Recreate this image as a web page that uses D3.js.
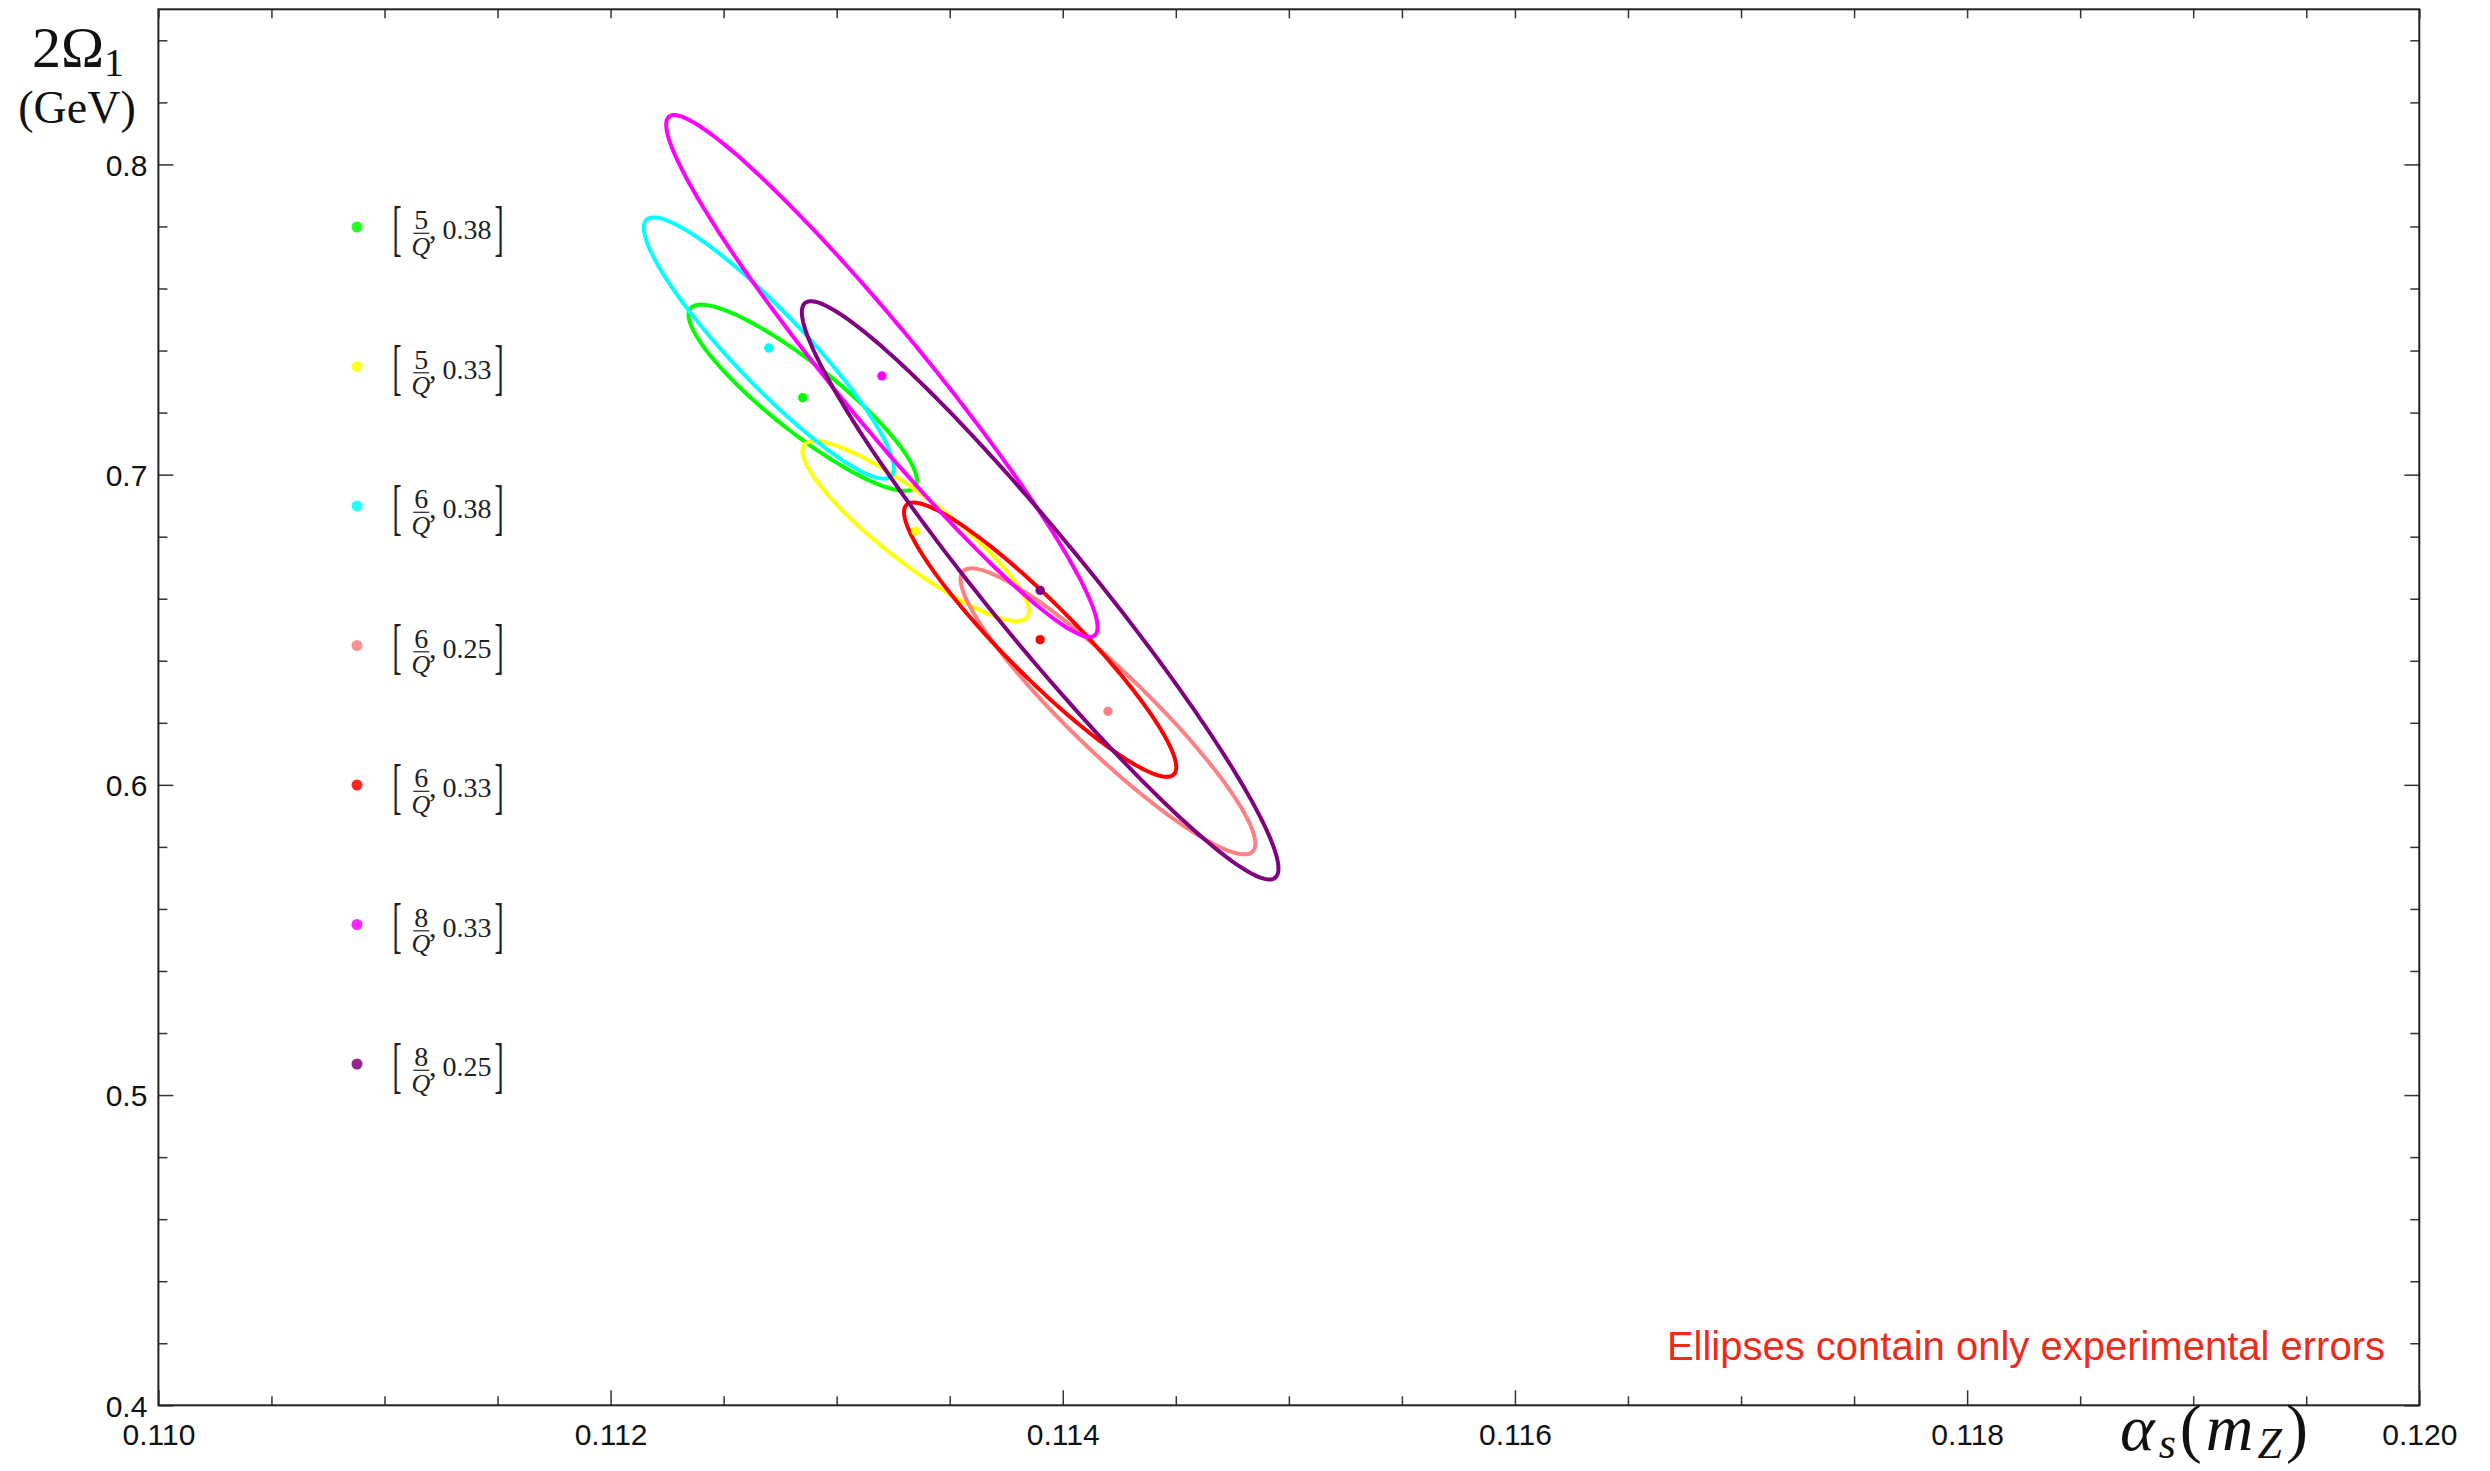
<!DOCTYPE html>
<html>
<head>
<meta charset="utf-8">
<script src="https://cdn.jsdelivr.net/npm/d3@7"></script>
<style>
  html, body { margin: 0; padding: 0; background: #fff; }
  svg { display: block; }
</style>
</head>
<body>
<svg id="chart" width="2490" height="1471"></svg>
<script>
// Fit results: central values of alpha_s(mZ) and 2*Omega_1 with their
// experimental 1-sigma errors and correlation, for each fit range.
const rangeNumerator = [5, 5, 6, 6, 6, 8, 8];
const rangeUpper = ["0.38", "0.33", "0.38", "0.25", "0.33", "0.33", "0.25"];
const seriesColors = ["#00ff00", "#ffff00", "#00ffff", "#ff8080", "#ff0000", "#ff00ff", "#800080"];
const alphaCentral = [0.11285, 0.11335, 0.11270, 0.11420, 0.11390, 0.11320, 0.11390];
const omegaCentral = [0.7248, 0.6818, 0.7408, 0.6237, 0.6468, 0.7318, 0.6627];
const alphaError = [0.000505, 0.000501, 0.000553, 0.000652, 0.000602, 0.000954, 0.001054];
const omegaError = [0.0300, 0.0290, 0.0421, 0.0461, 0.0442, 0.0841, 0.0932];
const correlation = [-0.89, -0.89, -0.92, -0.925, -0.93, -0.963, -0.962];

const xMajorTicks = [0.110, 0.112, 0.114, 0.116, 0.118, 0.120];
const xTickLabels = ["0.110", "0.112", "0.114", "0.116", "0.118", "0.120"];
const yMajorTicks = [0.4, 0.5, 0.6, 0.7, 0.8];
const yTickLabels = ["0.4", "0.5", "0.6", "0.7", "0.8"];

const svg = d3.select("#chart");
const frameLeft = 158.4, frameRight = 2419.3, frameTop = 9.3, frameBottom = 1405.3;

const x = d3.scaleLinear().domain([0.110, 0.120]).range([frameLeft, frameRight]);
const y = d3.scaleLinear().domain([0.4, 0.85]).range([frameBottom, frameTop]);

const tickFont = "'Liberation Sans', Arial, Helvetica, sans-serif";
const mathFont = "'Liberation Serif', 'Times New Roman', serif";

// Minor tick positions
const xMinor = d3.range(0, 21).map(i => 0.110 + i * 0.0005)
  .filter(v => !xMajorTicks.some(m => Math.abs(m - v) < 1e-9));
const yMinor = d3.range(0, 23).map(i => 0.4 + i * 0.02)
  .filter(v => v <= 0.8501 && !yMajorTicks.some(m => Math.abs(m - v) < 1e-9));

function styleAxis(g) {
  g.select(".domain").remove();
  g.selectAll(".tick line").attr("stroke", "#333").attr("stroke-width", 1.5);
  g.selectAll(".tick text").attr("font-family", tickFont).attr("font-size", 30).attr("fill", "#111");
}

// Bottom axis
svg.append("g").attr("transform", `translate(0,${frameBottom})`)
  .call(d3.axisBottom(x).tickValues(xMajorTicks).tickSize(-15).tickPadding(18)
    .tickFormat((d, i) => xTickLabels[i]))
  .call(styleAxis);
svg.append("g").attr("transform", `translate(0,${frameBottom})`)
  .call(d3.axisBottom(x).tickValues(xMinor).tickSize(-9).tickFormat(""))
  .call(styleAxis);

// Top axis (ticks only)
svg.append("g").attr("transform", `translate(0,${frameTop})`)
  .call(d3.axisTop(x).tickValues(xMajorTicks.concat(xMinor)).tickSize(-9).tickFormat(""))
  .call(styleAxis);

// Left axis
const leftAxis = svg.append("g").attr("transform", `translate(${frameLeft},0)`)
  .call(d3.axisLeft(y).tickValues(yMajorTicks).tickSize(-15).tickPadding(11)
    .tickFormat((d, i) => yTickLabels[i]))
  .call(styleAxis);
leftAxis.selectAll(".tick text").attr("dy", "0.36em");
svg.append("g").attr("transform", `translate(${frameLeft},0)`)
  .call(d3.axisLeft(y).tickValues(yMinor).tickSize(-9).tickFormat(""))
  .call(styleAxis);

// Right axis (ticks only)
svg.append("g").attr("transform", `translate(${frameRight},0)`)
  .call(d3.axisRight(y).tickValues(yMajorTicks).tickSize(-15).tickFormat(""))
  .call(styleAxis);
svg.append("g").attr("transform", `translate(${frameRight},0)`)
  .call(d3.axisRight(y).tickValues(yMinor).tickSize(-9).tickFormat(""))
  .call(styleAxis);

// Frame
svg.append("rect")
  .attr("x", frameLeft).attr("y", frameTop)
  .attr("width", frameRight - frameLeft).attr("height", frameBottom - frameTop)
  .attr("fill", "none").attr("stroke", "#222").attr("stroke-width", 2);

// Error ellipses: x = a + sa cos t, y = w + sw (rho cos t + sqrt(1-rho^2) sin t)
const tSteps = d3.range(0, 240).map(i => i / 240 * 2 * Math.PI);
const ellipseLine = d3.line().x(d => x(d[0])).y(d => y(d[1])).curve(d3.curveLinearClosed);

const fits = d3.range(rangeNumerator.length).map(i => ({
  a: alphaCentral[i], w: omegaCentral[i],
  sa: alphaError[i], sw: omegaError[i], rho: correlation[i],
  color: seriesColors[i]
}));

const plot = svg.append("g");
fits.forEach(f => {
  const pts = tSteps.map(t => [
    f.a + f.sa * Math.cos(t),
    f.w + f.sw * (f.rho * Math.cos(t) + Math.sqrt(1 - f.rho * f.rho) * Math.sin(t))
  ]);
  plot.append("path")
    .attr("d", ellipseLine(pts))
    .attr("fill", "none")
    .attr("stroke", f.color)
    .attr("stroke-width", 4);
});
fits.forEach(f => {
  plot.append("circle")
    .attr("cx", x(f.a)).attr("cy", y(f.w)).attr("r", 4.7)
    .attr("fill", f.color);
});

// Legend
const legendX = 357, legendY0 = 227, legendStep = 139.5;
fits.forEach((f, i) => {
  const g = svg.append("g").attr("transform", `translate(0,${legendY0 + i * legendStep})`);
  g.append("circle").attr("cx", legendX).attr("cy", 0).attr("r", 5.5)
    .attr("fill", f.color).attr("fill-opacity", 0.85);
  // left bracket
  g.append("text").attr("transform", "translate(392.6,21.8) scale(0.45,1)")
    .attr("font-family", mathFont).attr("font-size", 61).attr("fill", "#222").text("[");
  // fraction
  g.append("text").attr("x", 421.3).attr("y", 2.3).attr("text-anchor", "middle")
    .attr("font-family", mathFont).attr("font-size", 28).attr("fill", "#222")
    .text(rangeNumerator[i]);
  g.append("line").attr("x1", 413.3).attr("x2", 429.3).attr("y1", 6.3).attr("y2", 6.3)
    .attr("stroke", "#222").attr("stroke-width", 1.2);
  g.append("text").attr("x", 421.0).attr("y", 27.5).attr("text-anchor", "middle")
    .attr("font-family", mathFont).attr("font-style", "italic").attr("font-size", 26)
    .attr("fill", "#222").text("Q");
  const t = g.append("text").attr("y", 12.3)
    .attr("font-family", mathFont).attr("font-size", 28).attr("fill", "#222");
  t.append("tspan").attr("x", 429).attr("font-size", 30).text(",");
  t.append("tspan").attr("x", 442.5).text(rangeUpper[i]);
  // right bracket
  g.append("text").attr("transform", "translate(494.5,21.8) scale(0.45,1)")
    .attr("font-family", mathFont).attr("font-size", 61).attr("fill", "#222").text("]");
});

// Axis titles
const yTitle = svg.append("text").attr("x", 78).attr("y", 66.7).attr("text-anchor", "middle")
  .attr("font-family", mathFont).attr("font-size", 58).attr("fill", "#111");
yTitle.append("tspan").text("2Ω");
yTitle.append("tspan").attr("font-size", 40).attr("dy", 9.3).text("1");

svg.append("text").attr("x", 77).attr("y", 123).attr("text-anchor", "middle")
  .attr("font-family", mathFont).attr("font-size", 46).attr("fill", "#111").text("(GeV)");

const xTitle = svg.append("text").attr("x", 2120).attr("y", 1450)
  .attr("font-family", mathFont).attr("font-size", 66).attr("fill", "#111")
  .attr("textLength", 188).attr("lengthAdjust", "spacing");
xTitle.append("tspan").attr("font-style", "italic").text("α");
xTitle.append("tspan").attr("font-style", "italic").attr("font-size", 44).attr("dy", 8).text("s");
xTitle.append("tspan").attr("dy", -8).text("(");
xTitle.append("tspan").attr("font-style", "italic").text("m");
xTitle.append("tspan").attr("font-style", "italic").attr("font-size", 44).attr("dy", 8).text("Z");
xTitle.append("tspan").attr("dy", -8).text(")");

// Annotation
svg.append("text").attr("x", 2385).attr("y", 1360).attr("text-anchor", "end")
  .attr("font-family", tickFont).attr("font-size", 40).attr("fill", "#ee2a1b")
  .text("Ellipses contain only experimental errors");
</script>
</body>
</html>
